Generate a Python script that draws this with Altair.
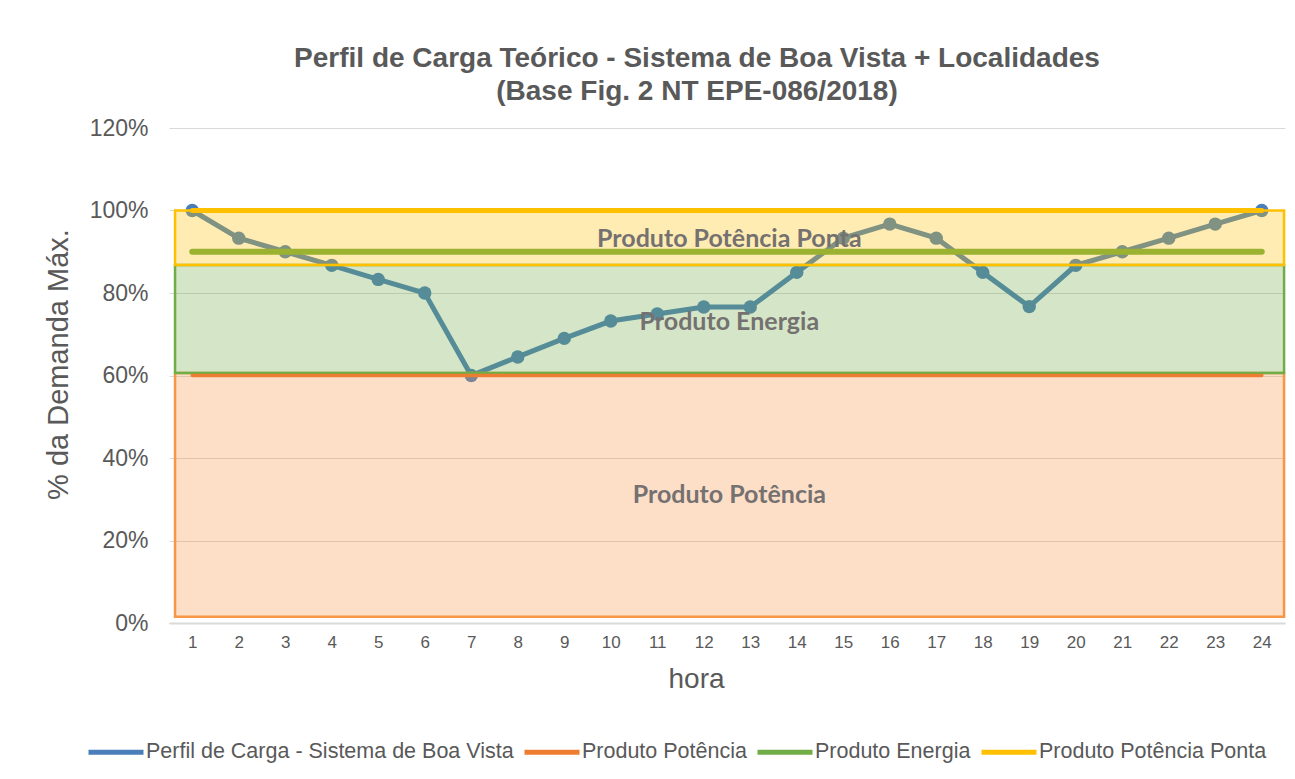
import altair as alt
import pandas as pd

# ---- data ----
horas = list(range(1, 25))
perfil = [100, 93.3, 90, 86.7, 83.3, 80, 60, 64.5, 69, 73.2, 74.9, 76.6,
          76.6, 85, 93.3, 96.7, 93.3, 85, 76.7, 86.7, 90, 93.3, 96.7, 100]

series = ["Perfil de Carga - Sistema de Boa Vista", "Produto Potência",
          "Produto Energia", "Produto Potência Ponta"]
series_cores = ["#4A7EBB", "#ED7D31", "#70AD47", "#FFC000"]
nivel_potencia = [60] * 24
nivel_energia = [90] * 24
nivel_ponta = [100] * 24

faixa_nomes = ["Produto Potência", "Produto Energia", "Produto Potência Ponta"]
faixa_base = [1.5, 60.6, 86.8]
faixa_topo = [60.6, 86.8, 100]
faixa_ini = [0.63, 0.63, 0.63]
faixa_fim = [24.48, 24.48, 24.48]
faixa_cores = ["#F79646", "#70AD47", "#FFC000"]
rotulo_x = [12.55, 12.55, 12.55]
rotulo_y = [31, 73, 93.2]

y_ticks = [0, 20, 40, 60, 80, 100, 120]

titulo = ["Perfil de Carga Teórico - Sistema de Boa Vista + Localidades",
          "(Base Fig. 2 NT EPE-086/2018)"]

# ---- tables ----
rows = []
for nome, vals in zip(series, [perfil, nivel_potencia, nivel_energia, nivel_ponta]):
    for h, v in zip(horas, vals):
        rows.append({"hora": h, "valor": v, "serie": nome})
df = pd.DataFrame(rows)

df_faixas = pd.DataFrame({
    "nome": faixa_nomes, "y0": faixa_base, "y1": faixa_topo,
    "x0": faixa_ini, "x1": faixa_fim, "lx": rotulo_x, "ly": rotulo_y,
})

GRAY = "#595959"
FONT = "Liberation Sans"

x_enc = alt.X("hora:Q",
              scale=alt.Scale(domain=[0.5, 24.5], nice=False, zero=False),
              axis=alt.Axis(values=horas, title="hora", grid=False, ticks=False,
                            domainColor="#D9D9D9", domainWidth=2,
                            labelFontSize=17, labelColor=GRAY, labelFont=FONT,
                            labelPadding=11, titleFontSize=28,
                            titleFontWeight="normal", titleColor=GRAY,
                            titleFont=FONT, titlePadding=15, titleX=527))
y_enc = alt.Y("valor:Q",
              scale=alt.Scale(domain=[0, 120], nice=False),
              axis=alt.Axis(values=y_ticks, labelExpr="datum.value + '%'",
                            title="% da Demanda Máx.", domain=False, ticks=False,
                            gridColor="#D9D9D9", gridWidth=1.2,
                            labelFontSize=23, labelColor=GRAY, labelFont=FONT,
                            labelPadding=21, titleFontSize=29,
                            titleFontWeight="normal", titleColor=GRAY,
                            titleFont=FONT, titlePadding=16, titleY=236))

color_enc = alt.Color("serie:N",
                      scale=alt.Scale(domain=series, range=series_cores),
                      legend=alt.Legend(
                          title=None, orient="none", direction="horizontal",
                          legendX=-83, legendY=594,
                          symbolType="stroke", symbolStrokeWidth=5,
                          symbolSize=3025, labelFontSize=21.5, labelFont=FONT,
                          labelColor=GRAY, columnPadding=0, labelOffset=0,
                          labelLimit=600))

base = alt.Chart(df)

def serie(i):
    return base.transform_filter(alt.datum.serie == series[i])

linha = serie(0).mark_line(strokeWidth=5).encode(x=x_enc, y=y_enc, color=color_enc)
pontos = serie(0).mark_circle(size=180, opacity=1).encode(
    x="hora:Q", y="valor:Q", color=color_enc)

l_pot = serie(1).mark_line(strokeWidth=3.5, strokeCap="round").encode(
    x="hora:Q", y="valor:Q", color=color_enc)
l_ene = serie(2).mark_line(strokeWidth=6, strokeCap="round").encode(
    x="hora:Q", y="valor:Q", color=color_enc)
l_pon = serie(3).mark_line(strokeWidth=5, strokeCap="round").encode(
    x="hora:Q", y="valor:Q", color=color_enc)

faixas = alt.Chart(df_faixas).mark_rect(fillOpacity=0.3, strokeWidth=2.5).encode(
    x="x0:Q", x2="x1:Q", y="y0:Q", y2="y1:Q",
    fill=alt.Fill("nome:N", scale=alt.Scale(domain=faixa_nomes, range=faixa_cores), legend=None),
    stroke=alt.Stroke("nome:N", scale=alt.Scale(domain=faixa_nomes, range=faixa_cores), legend=None),
)

rotulos = alt.Chart(df_faixas).mark_text(
    font="Lato", fontWeight="bold", fontSize=25, color="#757171").encode(
    x="lx:Q", y="ly:Q", text="nome:N")

chart = alt.layer(linha, pontos, l_ene, faixas, l_pot, l_pon, rotulos).properties(
    width=1116, height=495,
    padding={"left": 161, "top": 120, "right": 2, "bottom": 148},
    autosize=alt.AutoSizeParams(type="none"),
    title=alt.TitleParams(text=titulo, fontSize=28, font=FONT, fontWeight="bold",
                          color=GRAY, anchor="middle", dx=-30, offset=11,
                          lineHeight=33),
).configure_view(stroke=None)

chart.save("out.html", embed_options={"renderer": "svg", "actions": False})
